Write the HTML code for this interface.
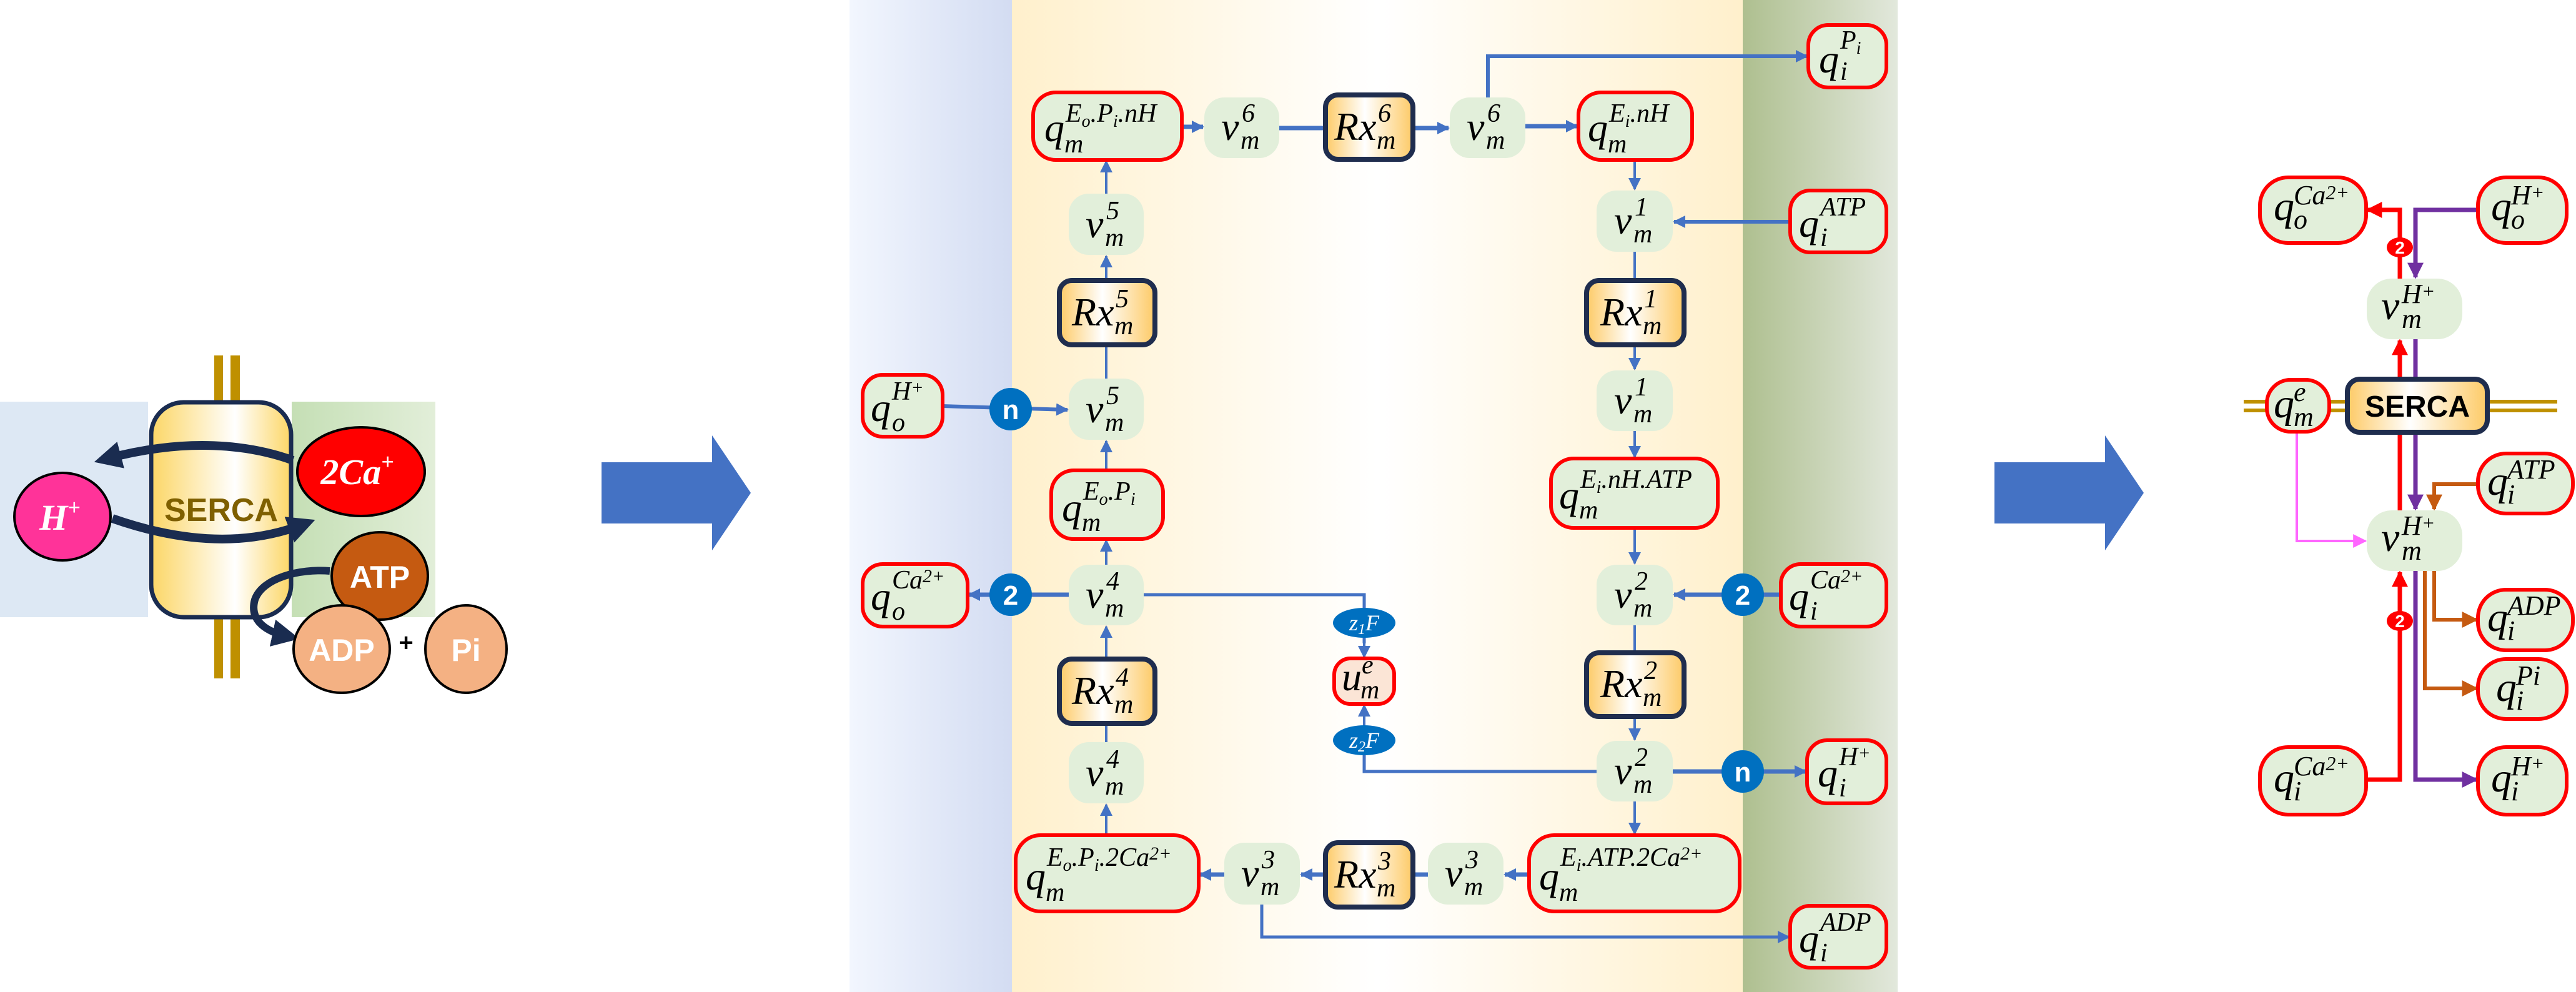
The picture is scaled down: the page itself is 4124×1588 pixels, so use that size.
<!DOCTYPE html>
<html><head><meta charset="utf-8"><style>
html,body{margin:0;padding:0;background:#fff}
svg{display:block}
.t{font-family:"Liberation Serif",serif;font-style:italic;fill:#000}
.b{font-family:"Liberation Sans",sans-serif;font-weight:bold}
.L{font-size:64px}.S{font-size:42px}
.R{font-family:"Liberation Serif",serif;font-style:italic;fill:#000}
.RL{font-size:66px}.RS{font-size:44px}
</style></head><body>
<svg width="4124" height="1588" viewBox="0 0 4124 1588" xmlns="http://www.w3.org/2000/svg">
<defs>
<linearGradient id="gGreen" x1="0" x2="1"><stop offset="0" stop-color="#c5dfb5"/><stop offset="1" stop-color="#e2eed9"/></linearGradient>
<linearGradient id="gCyl" x1="0" x2="1"><stop offset="0" stop-color="#fcd665"/><stop offset="0.6" stop-color="#ffffff"/><stop offset="1" stop-color="#fcd665"/></linearGradient>
<linearGradient id="gRx" x1="0" x2="1"><stop offset="0" stop-color="#fdca66"/><stop offset="0.45" stop-color="#ffffff"/><stop offset="1" stop-color="#fdca66"/></linearGradient>
<linearGradient id="gBlue" x1="0" x2="1"><stop offset="0" stop-color="#f2f6fe"/><stop offset="1" stop-color="#d3dcf2"/></linearGradient>
<linearGradient id="gYel" x1="0" x2="1"><stop offset="0" stop-color="#fff0cc"/><stop offset="0.5" stop-color="#ffffff"/><stop offset="1" stop-color="#fff0cc"/></linearGradient>
<linearGradient id="gGr2" x1="0" x2="1"><stop offset="0" stop-color="#aebf8f"/><stop offset="1" stop-color="#e2e8dc"/></linearGradient>
<marker id="aB" viewBox="0 0 10 10" refX="9" refY="5" markerWidth="20" markerHeight="22" markerUnits="userSpaceOnUse" orient="auto"><path d="M0,0L10,5L0,10z" fill="#4472c4"/></marker>
<marker id="aR" viewBox="0 0 10 10" refX="9" refY="5" markerWidth="26" markerHeight="26" markerUnits="userSpaceOnUse" orient="auto"><path d="M0,0L10,5L0,10z" fill="#ff0000"/></marker>
<marker id="aP" viewBox="0 0 10 10" refX="9" refY="5" markerWidth="26" markerHeight="26" markerUnits="userSpaceOnUse" orient="auto"><path d="M0,0L10,5L0,10z" fill="#7030a0"/></marker>
<marker id="aO" viewBox="0 0 10 10" refX="9" refY="5" markerWidth="26" markerHeight="26" markerUnits="userSpaceOnUse" orient="auto"><path d="M0,0L10,5L0,10z" fill="#c55a11"/></marker>
<marker id="aK" viewBox="0 0 10 10" refX="9" refY="5" markerWidth="26" markerHeight="22" markerUnits="userSpaceOnUse" orient="auto"><path d="M0,0L10,5L0,10z" fill="#ff66ff"/></marker>
<marker id="aD" viewBox="0 0 10 10" refX="5" refY="5" markerWidth="44" markerHeight="44" markerUnits="userSpaceOnUse" orient="auto"><path d="M0,0L10,5L0,10z" fill="#1a2c50"/></marker>
</defs>

<!-- LEFT PANEL -->
<rect x="0" y="643" width="237" height="345" fill="#dde8f4"/>
<rect x="467" y="643" width="230" height="345" fill="url(#gGreen)"/>
<rect x="343" y="569" width="14" height="517" fill="#bf9000"/>
<rect x="369" y="569" width="15" height="517" fill="#bf9000"/>
<rect x="242" y="644" width="224" height="344" rx="52" fill="url(#gCyl)" stroke="#1a2c50" stroke-width="7"/>
<text x="354" y="834" text-anchor="middle" class="b" font-size="52" fill="#7f6000">SERCA</text>
<ellipse cx="100" cy="827" rx="77" ry="70" fill="#ff3399" stroke="#000" stroke-width="4"/>
<text x="96" y="848" text-anchor="middle" class="t" font-weight="bold" font-size="58" style="fill:#fff">H<tspan font-size="36" dy="-24">+</tspan></text>
<ellipse cx="578" cy="755" rx="102" ry="71" fill="#ff0000" stroke="#000" stroke-width="4"/>
<text x="572" y="775" text-anchor="middle" class="t" font-weight="bold" font-size="58" style="fill:#fff">2Ca<tspan font-size="36" dy="-24">+</tspan></text>
<path d="M469,737 C400,712 300,700 172,734" fill="none" stroke="#1a2c50" stroke-width="14" marker-end="url(#aD)"/>
<path d="M180,830 C300,872 400,872 484,840" fill="none" stroke="#1a2c50" stroke-width="14" marker-end="url(#aD)"/>
<ellipse cx="608" cy="922" rx="77" ry="70" fill="#c55a11" stroke="#000" stroke-width="4"/>
<text x="608" y="941" text-anchor="middle" class="b" font-size="50" fill="#fff">ATP</text>
<path d="M528,914 C480,910 420,925 408,960 C398,995 430,1012 458,1018" fill="none" stroke="#1a2c50" stroke-width="12" marker-end="url(#aD)"/>
<ellipse cx="547" cy="1039" rx="77" ry="70" fill="#f4b183" stroke="#000" stroke-width="4"/>
<text x="547" y="1058" text-anchor="middle" class="b" font-size="50" fill="#fff">ADP</text>
<ellipse cx="746" cy="1039" rx="65" ry="70" fill="#f4b183" stroke="#000" stroke-width="4"/>
<text x="746" y="1058" text-anchor="middle" class="b" font-size="50" fill="#fff">Pi</text>
<text x="650" y="1042" text-anchor="middle" class="b" font-size="40" fill="#000">+</text>

<!-- BIG ARROWS -->
<path d="M963,740 L1140,740 L1140,697 L1202,789 L1140,881 L1140,838 L963,838 Z" fill="#4472c4"/>
<path d="M3193,740 L3370,740 L3370,697 L3432,789 L3370,881 L3370,838 L3193,838 Z" fill="#4472c4"/>

<!-- MIDDLE BACKGROUND -->
<rect x="1360" y="0" width="260" height="1588" fill="url(#gBlue)"/>
<rect x="1620" y="0" width="1170" height="1588" fill="url(#gYel)"/>
<rect x="2790" y="0" width="248" height="1588" fill="url(#gGr2)"/>

<!-- MIDDLE EDGES -->
<g stroke="#4472c4" stroke-width="4" fill="none">
<line x1="1892" y1="203" x2="1926" y2="203" stroke-width="7" marker-end="url(#aB)"/>
<line x1="2048" y1="205" x2="2122" y2="205" stroke-width="7"/>
<line x1="2262" y1="205" x2="2319" y2="205" stroke-width="7" marker-end="url(#aB)"/>
<line x1="2442" y1="202" x2="2525" y2="202" stroke-width="7" marker-end="url(#aB)"/>
<polyline points="2382,156 2382,90 2893,90" stroke-width="6" marker-end="url(#aB)"/>
<line x1="2617" y1="256" x2="2617" y2="303" marker-end="url(#aB)"/>
<line x1="2617" y1="403" x2="2617" y2="449"/>
<line x1="2617" y1="552" x2="2617" y2="591" marker-end="url(#aB)"/>
<line x1="2617" y1="690" x2="2617" y2="732" marker-end="url(#aB)"/>
<line x1="2866" y1="355" x2="2680" y2="355" stroke-width="6" marker-end="url(#aB)"/>
<line x1="2617" y1="845" x2="2617" y2="902" marker-end="url(#aB)"/>
<line x1="2617" y1="1001" x2="2617" y2="1045"/>
<line x1="2617" y1="1147" x2="2617" y2="1184" marker-end="url(#aB)"/>
<line x1="2617" y1="1283" x2="2617" y2="1335" marker-end="url(#aB)"/>
<line x1="2851" y1="952" x2="2680" y2="952" stroke-width="7" marker-end="url(#aB)"/>
<line x1="2678" y1="1235" x2="2891" y2="1235" stroke-width="7" marker-end="url(#aB)"/>
<line x1="2448" y1="1400" x2="2409" y2="1400" stroke-width="7" marker-end="url(#aB)"/>
<line x1="2286" y1="1400" x2="2262" y2="1400" stroke-width="7"/>
<line x1="2122" y1="1400" x2="2083" y2="1400" stroke-width="7" marker-end="url(#aB)"/>
<line x1="1960" y1="1400" x2="1921" y2="1400" stroke-width="7" marker-end="url(#aB)"/>
<polyline points="2020,1448 2020,1500 2864,1500" stroke-width="5" marker-end="url(#aB)"/>
<line x1="1771" y1="1337" x2="1771" y2="1288" marker-end="url(#aB)"/>
<line x1="1771" y1="1188" x2="1771" y2="1158"/>
<line x1="1771" y1="1055" x2="1771" y2="1003" marker-end="url(#aB)"/>
<line x1="1771" y1="904" x2="1771" y2="865" marker-end="url(#aB)"/>
<line x1="1711" y1="952" x2="1551" y2="952" stroke-width="7" marker-end="url(#aB)"/>
<polyline points="1831,952 2184,952 2184,1030" stroke-width="5"/>
<line x1="2184" y1="1020" x2="2184" y2="1052" marker-end="url(#aB)"/>
<line x1="2184" y1="1162" x2="2184" y2="1129" marker-end="url(#aB)"/>
<polyline points="2184,1185 2184,1235 2556,1235" stroke-width="5"/>
<line x1="1771" y1="753" x2="1771" y2="706" marker-end="url(#aB)"/>
<line x1="1771" y1="606" x2="1771" y2="552"/>
<line x1="1771" y1="449" x2="1771" y2="410" marker-end="url(#aB)"/>
<line x1="1771" y1="310" x2="1771" y2="258" marker-end="url(#aB)"/>
<line x1="1509" y1="650" x2="1709" y2="656" stroke-width="6" marker-end="url(#aB)"/>
</g>

<!-- MIDDLE NODES -->
<g fill="#e2efda">
<rect x="1928" y="156" width="120" height="97" rx="32"/>
<rect x="2321" y="156" width="121" height="97" rx="32"/>
<rect x="2556" y="305" width="122" height="98" rx="32"/>
<rect x="2556" y="593" width="122" height="97" rx="32"/>
<rect x="2556" y="904" width="122" height="97" rx="32"/>
<rect x="2556" y="1186" width="122" height="97" rx="32"/>
<rect x="2286" y="1349" width="121" height="99" rx="32"/>
<rect x="1960" y="1349" width="121" height="99" rx="32"/>
<rect x="1711" y="1188" width="120" height="98" rx="32"/>
<rect x="1711" y="904" width="120" height="97" rx="32"/>
<rect x="1711" y="606" width="120" height="98" rx="32"/>
<rect x="1711" y="310" width="120" height="98" rx="32"/>
</g>
<g fill="#e2efda" stroke="#ff0000" stroke-width="6">
<rect x="1654" y="148" width="238" height="108" rx="36"/>
<rect x="2527" y="148" width="182" height="108" rx="36"/>
<rect x="2895" y="40" width="125" height="100" rx="32"/>
<rect x="2866" y="305" width="154" height="99" rx="32"/>
<rect x="2483" y="734" width="267" height="111" rx="36"/>
<rect x="1683" y="753" width="179" height="110" rx="36"/>
<rect x="1381" y="600" width="128" height="99" rx="32"/>
<rect x="1381" y="903" width="168" height="100" rx="32"/>
<rect x="2851" y="903" width="169" height="100" rx="32"/>
<rect x="2893" y="1185" width="127" height="101" rx="32"/>
<rect x="2866" y="1450" width="154" height="99" rx="32"/>
<rect x="1626" y="1337" width="293" height="122" rx="40"/>
<rect x="2448" y="1337" width="337" height="122" rx="40"/>
<rect x="2136" y="1054" width="96" height="73" rx="26" fill="#fbe5d6"/>
</g>
<g fill="url(#gRx)" stroke="#1f2d4e" stroke-width="8">
<rect x="2122" y="152" width="140" height="103" rx="20"/>
<rect x="2540" y="449" width="156" height="103" rx="20"/>
<rect x="1696" y="449" width="153" height="103" rx="20"/>
<rect x="2540" y="1045" width="156" height="102" rx="20"/>
<rect x="1696" y="1055" width="153" height="103" rx="20"/>
<rect x="2122" y="1349" width="140" height="103" rx="20"/>
</g>
<g fill="#0070c0">
<circle cx="1618" cy="655" r="34"/>
<circle cx="1618" cy="952" r="34"/>
<circle cx="2790" cy="952" r="34"/>
<circle cx="2790" cy="1235" r="34"/>
<ellipse cx="2184" cy="997" rx="50" ry="24"/>
<ellipse cx="2184" cy="1185" rx="50" ry="24"/>
</g>
<g class="b" font-size="44" fill="#fff" text-anchor="middle">
<text x="1618" y="671">n</text><text x="1618" y="968">2</text>
<text x="2790" y="968">2</text><text x="2790" y="1251">n</text>
</g>
<g class="t" font-size="36" text-anchor="middle">
<text x="2184" y="1009" style="fill:#fff">z<tspan font-size="24" dy="6">1</tspan><tspan dy="-6">F</tspan></text>
<text x="2184" y="1197" style="fill:#fff">z<tspan font-size="24" dy="6">2</tspan><tspan dy="-6">F</tspan></text>
</g>

<!-- MIDDLE LABELS -->
<g class="t">
<text class="L" x="1955" y="224">v</text><text class="S" x="1988" y="195">6</text><text class="S" x="1986" y="238">m</text>
<text class="L" x="2348" y="224">v</text><text class="S" x="2381" y="195">6</text><text class="S" x="2379" y="238">m</text>
<text class="L" x="2584" y="374">v</text><text class="S" x="2617" y="345">1</text><text class="S" x="2615" y="388">m</text>
<text class="L" x="2584" y="662">v</text><text class="S" x="2617" y="633">1</text><text class="S" x="2615" y="676">m</text>
<text class="L" x="2584" y="973">v</text><text class="S" x="2617" y="944">2</text><text class="S" x="2615" y="987">m</text>
<text class="L" x="2584" y="1255">v</text><text class="S" x="2617" y="1226">2</text><text class="S" x="2615" y="1269">m</text>
<text class="L" x="2313" y="1419">v</text><text class="S" x="2346" y="1390">3</text><text class="S" x="2344" y="1433">m</text>
<text class="L" x="1987" y="1419">v</text><text class="S" x="2020" y="1390">3</text><text class="S" x="2018" y="1433">m</text>
<text class="L" x="1738" y="1258">v</text><text class="S" x="1771" y="1229">4</text><text class="S" x="1769" y="1272">m</text>
<text class="L" x="1738" y="973">v</text><text class="S" x="1771" y="944">4</text><text class="S" x="1769" y="987">m</text>
<text class="L" x="1738" y="676">v</text><text class="S" x="1771" y="647">5</text><text class="S" x="1769" y="690">m</text>
<text class="L" x="1738" y="380">v</text><text class="S" x="1771" y="351">5</text><text class="S" x="1769" y="394">m</text>
<text class="L" x="2136" y="224">Rx</text><text class="S" x="2206" y="195">6</text><text class="S" x="2204" y="238">m</text>
<text class="L" x="2562" y="521">Rx</text><text class="S" x="2632" y="492">1</text><text class="S" x="2630" y="535">m</text>
<text class="L" x="1716" y="521">Rx</text><text class="S" x="1786" y="492">5</text><text class="S" x="1784" y="535">m</text>
<text class="L" x="2562" y="1116">Rx</text><text class="S" x="2632" y="1087">2</text><text class="S" x="2630" y="1130">m</text>
<text class="L" x="1716" y="1127">Rx</text><text class="S" x="1786" y="1098">4</text><text class="S" x="1784" y="1141">m</text>
<text class="L" x="2136" y="1421">Rx</text><text class="S" x="2206" y="1392">3</text><text class="S" x="2204" y="1435">m</text>
<text class="L" x="1672" y="226">q</text><text class="S" x="1706" y="195">E<tspan font-size="28" dy="8">o</tspan><tspan dy="-8">.P</tspan><tspan font-size="28" dy="8">i</tspan><tspan dy="-8">.nH</tspan></text><text class="S" x="1704" y="244">m</text>
<text class="L" x="2542" y="226">q</text><text class="S" x="2576" y="195">E<tspan font-size="28" dy="8">i</tspan><tspan dy="-8">.nH</tspan></text><text class="S" x="2574" y="244">m</text>
<text class="L" x="2912" y="116">q</text><text class="S" x="2946" y="78">P<tspan font-size="28" dy="8">i</tspan></text><text class="S" x="2946" y="128">i</text>
<text class="L" x="2880" y="379">q</text><text class="S" x="2914" y="345">ATP</text><text class="S" x="2914" y="394">i</text>
<text class="L" x="2496" y="814">q</text><text class="S" x="2530" y="781">E<tspan font-size="28" dy="8">i</tspan><tspan dy="-8">.nH.ATP</tspan></text><text class="S" x="2528" y="830">m</text>
<text class="L" x="1700" y="834">q</text><text class="S" x="1734" y="800">E<tspan font-size="28" dy="8">o</tspan><tspan dy="-8">.P</tspan><tspan font-size="28" dy="8">i</tspan></text><text class="S" x="1732" y="850">m</text>
<text class="L" x="1394" y="674">q</text><text class="S" x="1428" y="640">H<tspan font-size="30" dy="-10">+</tspan></text><text class="S" x="1428" y="690">o</text>
<text class="L" x="1394" y="976">q</text><text class="S" x="1428" y="942">Ca<tspan font-size="30" dy="-10">2+</tspan></text><text class="S" x="1428" y="992">o</text>
<text class="L" x="2864" y="976">q</text><text class="S" x="2898" y="942">Ca<tspan font-size="30" dy="-10">2+</tspan></text><text class="S" x="2898" y="992">i</text>
<text class="L" x="2910" y="1259">q</text><text class="S" x="2944" y="1225">H<tspan font-size="30" dy="-10">+</tspan></text><text class="S" x="2944" y="1275">i</text>
<text class="L" x="2880" y="1524">q</text><text class="S" x="2914" y="1490">ADP</text><text class="S" x="2914" y="1539">i</text>
<text class="L" x="1642" y="1424">q</text><text class="S" x="1676" y="1386">E<tspan font-size="28" dy="8">o</tspan><tspan dy="-8">.P</tspan><tspan font-size="28" dy="8">i</tspan><tspan dy="-8">.2Ca</tspan><tspan font-size="30" dy="-10">2+</tspan></text><text class="S" x="1674" y="1442">m</text>
<text class="L" x="2464" y="1424">q</text><text class="S" x="2498" y="1386">E<tspan font-size="28" dy="8">i</tspan><tspan dy="-8">.ATP.2Ca</tspan><tspan font-size="30" dy="-10">2+</tspan></text><text class="S" x="2496" y="1442">m</text>
<text class="L" x="2148" y="1105">u</text><text class="S" x="2180" y="1078">e</text><text class="S" x="2178" y="1118">m</text>
</g>

<!-- RIGHT PANEL -->
<line x1="3592" y1="643" x2="4094" y2="643" stroke="#bf9000" stroke-width="6"/>
<line x1="3592" y1="657" x2="4094" y2="657" stroke="#bf9000" stroke-width="6"/>
<g fill="none" stroke-width="7">
<polyline points="3788,1248 3842,1248 3842,916" stroke="#ff0000" marker-end="url(#aR)"/>
<line x1="3842" y1="817" x2="3842" y2="545" stroke="#ff0000" marker-end="url(#aR)"/>
<polyline points="3842,446 3842,336 3790,336" stroke="#ff0000" marker-end="url(#aR)"/>
<polyline points="3967,336 3867,336 3867,444" stroke="#7030a0" marker-end="url(#aP)"/>
<line x1="3867" y1="543" x2="3867" y2="815" stroke="#7030a0" marker-end="url(#aP)"/>
<polyline points="3867,914 3867,1248 3965,1248" stroke="#7030a0" marker-end="url(#aP)"/>
<polyline points="3967,775 3897,775 3897,815" stroke="#c55a11" stroke-width="6" marker-end="url(#aO)"/>
<polyline points="3897,914 3897,992 3965,992" stroke="#c55a11" stroke-width="6" marker-end="url(#aO)"/>
<polyline points="3882,914 3882,1102 3965,1102" stroke="#c55a11" stroke-width="6" marker-end="url(#aO)"/>
<polyline points="3677,691 3677,866 3787,866" stroke="#ff66ff" stroke-width="4" marker-end="url(#aK)"/>
</g>
<g fill="#ff0000">
<ellipse cx="3842" cy="396" rx="21" ry="16"/>
<ellipse cx="3842" cy="994" rx="21" ry="16"/>
</g>
<g class="b" font-size="28" fill="#fff" text-anchor="middle">
<text x="3842" y="406">2</text><text x="3842" y="1004">2</text>
</g>
<g fill="#e2efda">
<rect x="3789" y="446" width="153" height="97" rx="40"/>
<rect x="3789" y="817" width="153" height="97" rx="40"/>
</g>
<g fill="#e2efda" stroke="#ff0000" stroke-width="6">
<rect x="3618" y="284" width="170" height="105" rx="45"/>
<rect x="3967" y="284" width="142" height="105" rx="45"/>
<rect x="3629" y="608" width="100" height="83" rx="38"/>
<rect x="3967" y="726" width="152" height="96" rx="45"/>
<rect x="3967" y="944" width="152" height="97" rx="45"/>
<rect x="3967" y="1055" width="142" height="96" rx="45"/>
<rect x="3618" y="1196" width="170" height="108" rx="45"/>
<rect x="3967" y="1196" width="142" height="108" rx="45"/>
</g>
<rect x="3758" y="607" width="224" height="85" rx="20" fill="url(#gRx)" stroke="#1f2d4e" stroke-width="8"/>
<text x="3870" y="667" text-anchor="middle" class="b" font-size="48" fill="#000">SERCA</text>
<g class="R">
<text class="RL" x="3640" y="352">q</text><text class="RS" x="3672" y="327">Ca<tspan font-size="32" dy="-8">2+</tspan></text><text class="RS" x="3672" y="366">o</text>
<text class="RL" x="3988" y="352">q</text><text class="RS" x="4020" y="327">H<tspan font-size="32" dy="-8">+</tspan></text><text class="RS" x="4020" y="366">o</text>
<text class="RL" x="3812" y="511">v</text><text class="RS" x="3845" y="485">H<tspan font-size="32" dy="-8">+</tspan></text><text class="RS" x="3845" y="525">m</text>
<text class="RL" x="3812" y="882">v</text><text class="RS" x="3845" y="856">H<tspan font-size="32" dy="-8">+</tspan></text><text class="RS" x="3845" y="896">m</text>
<text class="RL" x="3640" y="668">q</text><text class="RS" x="3672" y="642">e</text><text class="RS" x="3672" y="682">m</text>
<text class="RL" x="3982" y="792">q</text><text class="RS" x="4014" y="766">ATP</text><text class="RS" x="4014" y="806">i</text>
<text class="RL" x="3982" y="1010">q</text><text class="RS" x="4014" y="984">ADP</text><text class="RS" x="4014" y="1024">i</text>
<text class="RL" x="3996" y="1122">q</text><text class="RS" x="4028" y="1096">Pi</text><text class="RS" x="4028" y="1136">i</text>
<text class="RL" x="3640" y="1267">q</text><text class="RS" x="3672" y="1241">Ca<tspan font-size="32" dy="-8">2+</tspan></text><text class="RS" x="3672" y="1281">i</text>
<text class="RL" x="3988" y="1267">q</text><text class="RS" x="4020" y="1241">H<tspan font-size="32" dy="-8">+</tspan></text><text class="RS" x="4020" y="1281">i</text>
</g>
</svg>
</body></html>
